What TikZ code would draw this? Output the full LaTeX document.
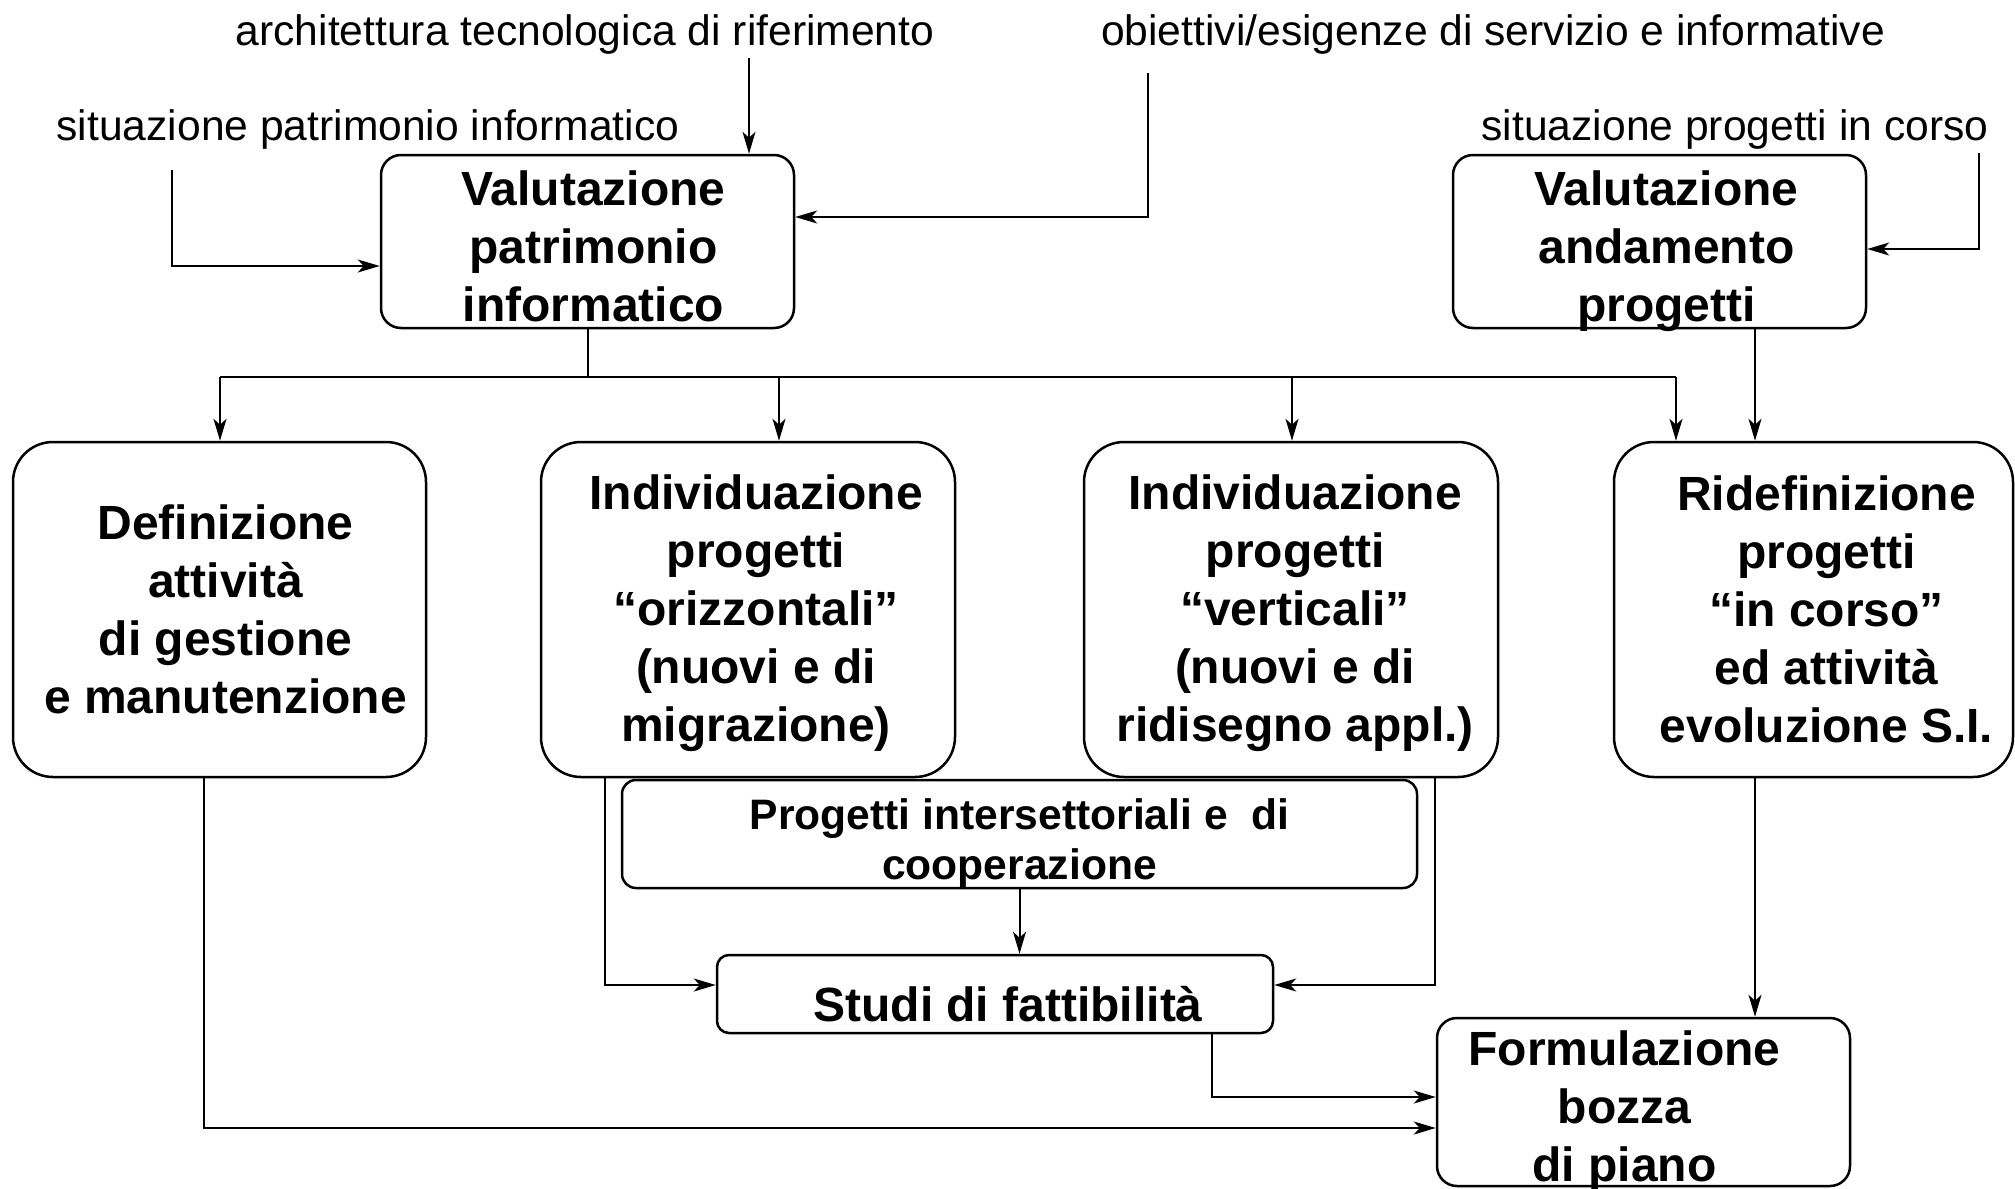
\documentclass[tikz,border=0pt]{standalone}
\usepackage{fontspec}
\setmainfont{Liberation Sans}
\usetikzlibrary{arrows.meta}
\begin{document}
\begin{tikzpicture}[x=0.5pt,y=-0.5pt,
  box/.style={draw, line width=1.25pt, inner sep=0pt},
  midbox/.style={box, rounded corners=10pt, minimum width=206.5pt, minimum height=86.5pt},
  bigbox/.style={box, rounded corners=20pt, minimum height=167.5pt},
  smallbox/.style={box, rounded corners=7pt},
  boxtxt/.style={align=center, inner sep=0pt, font=\fontsize{24}{29}\selectfont\bfseries},
  smalltxt/.style={boxtxt, font=\fontsize{21.3}{25}\selectfont\bfseries},
  lbl/.style={anchor=base, inner sep=0pt, font=\fontsize{21.3}{25}\selectfont},
  conn/.style={line width=1pt},
  arr/.style={conn, -{Stealth[length=11pt, width=6.5pt, inset=3pt]}}
]
\useasboundingbox (0,0) rectangle (2015,1189);

% input labels
\node[lbl] (lArch) at (585,45) {architettura tecnologica di riferimento};
\node[lbl] (lObj)  at (1493,45) {obiettivi/esigenze di servizio e informative};
\node[lbl] (lSitP) at (368,140) {situazione patrimonio informatico};
\node[lbl] (lSitC) at (1735,140) {situazione progetti in corso};

% evaluation boxes
\node[midbox] (A) at (587.5,241.5) {};
\node[midbox] (B) at (1659.5,241.5) {};
\node[boxtxt] (At) at ([shift={(6,5)}]A.center) {Valutazione\\patrimonio\\informatico};
\node[boxtxt] (Bt) at ([shift={(7,10)}]B.center) {Valutazione\\andamento\\progetti};

% main row
\node[bigbox, minimum width=206.5pt] (C) at (219.5,609.5) {};
\node[bigbox, minimum width=207pt] (D) at (748,609.5) {};
\node[bigbox, minimum width=207pt] (E) at (1291,609.5) {};
\node[bigbox, minimum width=199.5pt] (F) at (1813.5,609.5) {};
\node[boxtxt] (Ct) at ([shift={(6,0)}]C.center)
  {Definizione\\attività\\di gestione\\e manutenzione};
\node[boxtxt] (Dt) at ([shift={(8,4)}]D.center)
  {Individuazione\\progetti\\“orizzontali”\\(nuovi e di\\migrazione)};
\node[boxtxt] (Et) at ([shift={(4,4)}]E.center)
  {Individuazione\\progetti\\“verticali”\\(nuovi e di\\ridisegno appl.)};
\node[boxtxt] (Ft) at ([shift={(13,0)}]F.center)
  {Ridefinizione\\progetti\\“in corso”\\ed attività\\evoluzione S.I.};

% lower boxes
\node[smallbox, minimum width=397.5pt, minimum height=54pt] (G) at (1019.5,834) {};
\node[smallbox, rounded corners=6pt, minimum width=278pt, minimum height=39pt] (H) at (995,994) {};
\node[midbox, minimum height=84pt] (I) at (1643.5,1102) {};
\node[smalltxt] (Gt) at ([shift={(0,9)}]G.center) {Progetti intersettoriali e~~di\\cooperazione};
\node[boxtxt] (Ht) at ([shift={(13,10)}]H.center) {Studi di fattibilità};
\node[boxtxt] (It) at ([shift={(-19,9)}]I.center) {Formulazione\\bozza\\di piano};

% inputs
\coordinate (inArch) at (749,58);
\coordinate (inObj)  at (1148,73);
\coordinate (inSitP) at (172,170);
\coordinate (inSitC) at (1979,153);
\draw[arr] (inArch) -- (inArch |- A.north);
\draw[arr] (inObj) |- (A.east |- 0,217);
\draw[arr] (inSitP) |- (A.west |- 0,266);
\draw[arr] (inSitC) |- (B.east |- 0,249);

% distribution bus
\coordinate (busL) at (220,377);
\coordinate (busD) at (779,377);
\coordinate (busE) at (1292,377);
\coordinate (busR) at (1676,377);
\draw[conn] (A.south) -- (A.south |- busL);
\draw[conn] (busL) -- (busR);
\draw[arr] (busL) -- (busL |- C.north);
\draw[arr] (busD) -- (busD |- D.north);
\draw[arr] (busE) -- (busE |- E.north);
\draw[arr] (busR) -- (busR |- F.north);
\draw[arr] (B.south -| 1755,0) -- (F.north -| 1755,0);

% towards the plan
\draw[arr] (C.south -| 204,0) |- (I.west |- 0,1128);
\draw[arr] (D.south -| 605,0) |- (H.west |- 0,985);
\draw[arr] (E.south -| 1435,0) |- (H.east |- 0,985);
\draw[arr] (G.south) -- (H.north -| G.south);
\draw[arr] (H.south -| 1212,0) |- (I.west |- 0,1097);
\draw[arr] (F.south -| 1755,0) -- (I.north -| 1755,0);
\end{tikzpicture}
\end{document}
